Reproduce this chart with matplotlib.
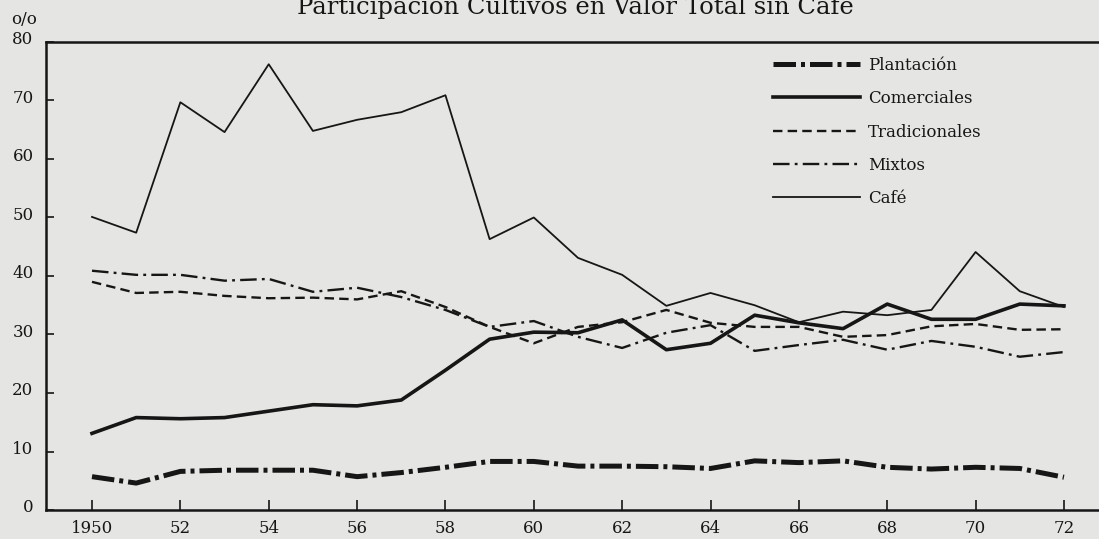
import matplotlib
matplotlib.use("Agg")
import matplotlib.pyplot as plt
import matplotlib.transforms as mtransforms

years = list(range(1950, 1973))
plantacion = [5.7, 4.6, 6.6, 6.8, 6.8, 6.8, 5.7, 6.4, 7.3, 8.3, 8.3, 7.5,
              7.5, 7.4, 7.1, 8.4, 8.1, 8.4, 7.3, 7.0, 7.3, 7.1, 5.6]
comerciales = [13.1, 15.8, 15.6, 15.8, 16.9, 18.0, 17.8, 18.8, 23.9, 29.2, 30.4, 30.3,
               32.5, 27.4, 28.5, 33.3, 32.0, 31.0, 35.2, 32.6, 32.6, 35.2, 34.9]
tradicionales = [39.0, 37.1, 37.3, 36.6, 36.2, 36.3, 36.0, 37.4, 34.7, 31.3, 28.5, 31.3,
                 32.1, 34.2, 32.0, 31.3, 31.3, 29.6, 29.9, 31.4, 31.8, 30.8, 30.9]
mixtos = [40.9, 40.2, 40.2, 39.2, 39.5, 37.3, 38.0, 36.4, 34.2, 31.3, 32.3, 29.6,
          27.7, 30.3, 31.6, 27.2, 28.2, 29.1, 27.4, 28.9, 27.9, 26.2, 27.0]
cafe = [50.1, 47.4, 69.7, 64.6, 76.2, 64.8, 66.7, 68.0, 70.9, 46.3, 50.0, 43.1,
        40.2, 34.9, 37.1, 35.0, 32.1, 33.9, 33.3, 34.2, 44.1, 37.4, 34.7]

series_labels = ["Plantación", "Comerciales", "Tradicionales", "Mixtos", "Café"]
xtick_years = list(range(1950, 1973, 2))
xtick_labels = ["1950"] + [str(y % 100) for y in xtick_years[1:]]
ytick_vals = list(range(0, 81, 10))

title = "Participación Cultivos en Valor Total sin Café"
ylabel_unit = "o/o"

bg = "#e5e5e3"
ink = "#161616"
serif = ["DejaVu Serif", "Liberation Serif"]
plt.rcParams["font.family"] = serif

fig = plt.figure(figsize=(10.99, 5.39), dpi=100, facecolor=bg)
W, H = 1099, 539
ax = fig.add_axes([46 / W, 29 / H, 1 - 46 / W, (510 - 42) / H])
ax.set_facecolor(bg)

px_per_year = 44.18
ax.set_xlim(1950 - 46 / px_per_year, 1950 + (1099 - 92) / px_per_year)
ax.set_ylim(0, 80)

ax.plot(years, plantacion, color=ink, lw=3.6, linestyle=(0, (4.5, 1.0, 0.8, 1.0)),
        solid_capstyle="butt", label=series_labels[0])
ax.plot(years, comerciales, color=ink, lw=2.6, label=series_labels[1])
ax.plot(years, tradicionales, color=ink, lw=1.7, linestyle=(0, (4, 2.2)),
        label=series_labels[2])
ax.plot(years, mixtos, color=ink, lw=1.7, linestyle=(0, (7, 2.2, 1.2, 2.2)),
        label=series_labels[3])
ax.plot(years, cafe, color=ink, lw=1.3, label=series_labels[4])

ax.spines["right"].set_visible(False)
for s in ["left", "bottom", "top"]:
    ax.spines[s].set_linewidth(1.8)
    ax.spines[s].set_color(ink)

ax.set_xticks(xtick_years)
ax.set_xticklabels(xtick_labels)
ax.set_yticks(ytick_vals)
ax.set_yticklabels([str(v) for v in ytick_vals])
ax.tick_params(axis="x", direction="in", length=7, width=1.2, color=ink,
               labelsize=12, pad=7, labelcolor=ink)
ax.tick_params(axis="y", direction="in", length=6, width=1.2, color=ink,
               labelsize=12, pad=9, labelcolor=ink)
offset = mtransforms.ScaledTranslation(0, 3 / 72, fig.dpi_scale_trans)
for lab in ax.get_yticklabels():
    lab.set_transform(lab.get_transform() + offset)

fig.text(11 / W, 1 - 19 / H, ylabel_unit, fontsize=12, color=ink,
         ha="left", va="center")
fig.text(575 / W, 1 - 14 / H, title, fontsize=17.5, color=ink,
         ha="center", va="baseline")

leg = ax.legend(loc="upper left", bbox_to_anchor=(773 / W, 1 - 57 / H),
                bbox_transform=fig.transFigure, frameon=False, fontsize=12,
                handlelength=5.2, handletextpad=0.5, labelspacing=0.98,
                borderpad=0, borderaxespad=0)
for t in leg.get_texts():
    t.set_color(ink)

fig.savefig("out.png", dpi=100, facecolor=bg)
